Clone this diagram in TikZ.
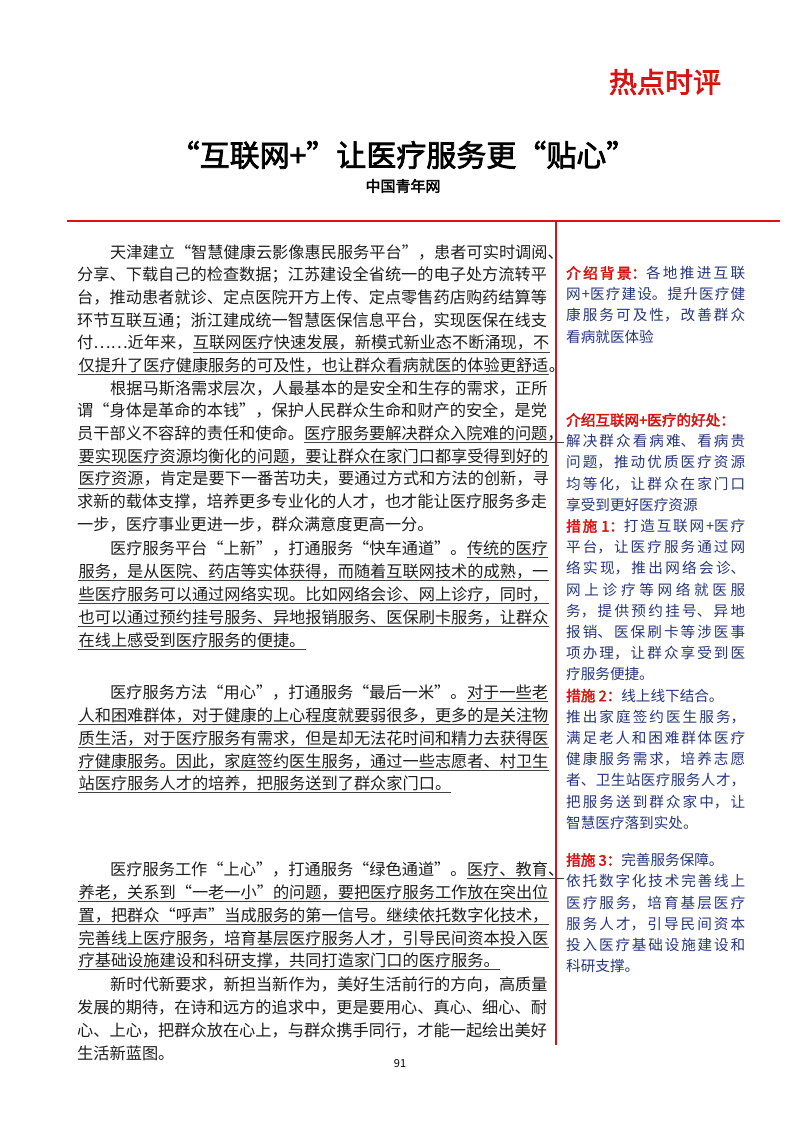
\documentclass[tikz,border=0pt]{standalone}
\usepackage{fontspec}
\setmainfont{Noto Sans CJK SC}[AutoFakeBold=2.5]
\definecolor{hotred}{RGB}{214,20,20}
\definecolor{sideblue}{RGB}{40,55,125}
\definecolor{bodyk}{RGB}{30,30,30}
\newcommand\sidesetup{\XeTeXlinebreaklocale "zh"\XeTeXlinebreakskip=0pt plus 4pt\lineskiplimit=-20pt\lineskip=0pt\relax}
\tikzset{
 bt/.style={anchor=base west,inner sep=0pt,text=bodyk,font=\fontsize{16.2}{20}\selectfont},
 ulline/.style={draw=black!75,line width=0.9pt},
 ulseg/.style={append after command={([yshift=-3.5pt]\tikzlastnode.base west) edge[ulline] ([yshift=-3.5pt]\tikzlastnode.base east)}},
 sidebox/.style={anchor=north west,inner sep=0pt,text width=179pt,align=justify,text=sideblue,
   font=\fontsize{14.6}{21.2}\selectfont},
 rl/.style={text=hotred,font=\bfseries}
}
\newcommand\pline[4]{\node[bt] (#1) at (#2,#3) {#4};}
\newcommand\bodyline[6]{%
 \node[bt] (#1a) at (#2,#3) {#4};
 \node[bt,ulseg] (#1b) at (#1a.base east) {#5};
 \node[bt] (#1c) at (#1b.base east) {#6};}
\begin{document}
\begin{tikzpicture}[x=1pt,y=-1pt]
\path[use as bounding box,fill=white] (0,0) rectangle (800,1132);
\node[text=hotred,font=\fontsize{28}{30}\selectfont\bfseries] (hot) at (665,82) {热点时评};
\node[font=\fontsize{30}{32}\selectfont\bfseries] (title) at (403,155) {“互联网+”让医疗服务更“贴心”};
\node[font=\fontsize{15}{17}\selectfont\bfseries] (src) at (403,186) {中国青年网};
\coordinate (hl) at (67,221); \coordinate (hr) at (780,221);
\draw[hotred,line width=2.5pt] (hl) -- (hr);
\coordinate (vt) at (556,221); \coordinate (vb) at (556,1045);
\draw[hotred,line width=2.5pt] (vt) -- (vb);
% para 1
\pline{pa}{110}{258}{天津建立“智慧健康云影像惠民服务平台”，患者可实时调阅、}
\pline{pb}{77}{280.5}{分享、下载自己的检查数据；江苏建设全省统一的电子处方流转平}
\pline{pc}{77}{303}{台，推动患者就诊、定点医院开方上传、定点零售药店购药结算等}
\pline{pd}{77}{326}{环节互联互通；浙江建成统一智慧医保信息平台，实现医保在线支}
\bodyline{pe}{77}{348.5}{付……近年来，}{互联网医疗快速发展，新模式新业态不断涌现，不}{}
\bodyline{pf}{77}{371}{}{仅提升了医疗健康服务的可及性，也让群众看病就医的体验更舒适}{。}
% para 2
\pline{qa}{110}{394}{根据马斯洛需求层次，人最基本的是安全和生存的需求，正所}
\pline{qb}{77}{416.5}{谓“身体是革命的本钱”，保护人民群众生命和财产的安全，是党}
\bodyline{qc}{77}{439}{员干部义不容辞的责任和使命。}{医疗服务要解决群众入院难的问题，}{}
\bodyline{qd}{77}{462}{}{要实现医疗资源均衡化的问题，要让群众在家门口都享受得到好的}{}
\bodyline{qe}{77}{484.5}{}{医疗资源}{，肯定是要下一番苦功夫，要通过方式和方法的创新，寻}
\pline{qf}{77}{507}{求新的载体支撑，培养更多专业化的人才，也才能让医疗服务多走}
\pline{qg}{77}{530}{一步，医疗事业更进一步，群众满意度更高一分。}
% para 3
\bodyline{ra}{110}{554}{医疗服务平台“上新”，打通服务“快车通道”。}{传统的医疗}{}
\bodyline{rb}{77}{577}{}{服务，是从医院、药店等实体获得，而随着互联网技术的成熟，一}{}
\bodyline{rc}{77}{600}{}{些医疗服务可以通过网络实现。比如网络会诊、网上诊疗，同时，}{}
\bodyline{rd}{77}{623}{}{也可以通过预约挂号服务、异地报销服务、医保刷卡服务，让群众}{}
\bodyline{re}{77}{646}{}{在线上感受到医疗服务的便捷。\ }{}
% para 4
\bodyline{sa}{110}{698}{医疗服务方法“用心”，打通服务“最后一米”。}{对于一些老}{}
\bodyline{sb}{77}{721}{}{人和困难群体，对于健康的上心程度就要弱很多，更多的是关注物}{}
\bodyline{sc}{77}{744}{}{质生活，对于医疗服务有需求，但是却无法花时间和精力去获得医}{}
\bodyline{sd}{77}{767}{}{疗健康服务。因此，家庭签约医生服务，通过一些志愿者、村卫生}{}
\bodyline{se}{77}{789}{}{站医疗服务人才的培养，把服务送到了群众家门口。}{}
% para 5
\bodyline{ta}{110}{875}{医疗服务工作“上心”，打通服务“绿色通道”。}{医疗、教育、}{}
\bodyline{tb}{77}{898}{}{养老，关系到“一老一小”的问题，要把医疗服务工作放在突出位}{}
\bodyline{tc}{77}{921}{}{置，把群众“呼声”当成服务的第一信号。继续依托数字化技术，}{}
\bodyline{td}{77}{944}{}{完善线上医疗服务，培育基层医疗服务人才，引导民间资本投入医}{}
\bodyline{te}{77}{966}{}{疗基础设施建设和科研支撑，共同打造家门口的医疗服务。}{}
% para 6
\pline{ua}{110}{990}{新时代新要求，新担当新作为，美好生活前行的方向，高质量}
\pline{ub}{77}{1013}{发展的期待，在诗和远方的追求中，更是要用心、真心、细心、耐}
\pline{uc}{77}{1036}{心、上心，把群众放在心上，与群众携手同行，才能一起绘出美好}
\pline{ud}{77}{1059}{生活新蓝图。}
\node[font=\fontsize{11}{12}\selectfont] (pg) at (400,1064) {91};
% side column
\node[sidebox] (s1) at (566,266) {\sidesetup{\color{hotred}\bfseries 介绍背景：}各地推进互联\linebreak
网+医疗建设。提升医疗健\linebreak 康服务可及性，改善群众\linebreak 看病就医体验};
\node[sidebox] (s2) at (566,413) {\sidesetup{\color{hotred}\bfseries 介绍互联网+医疗的好处：}\\
解决群众看病难、看病贵\linebreak 问题，推动优质医疗资源\linebreak 均等化，让群众在家门口\linebreak 享受到更好医疗资源\\
{\color{hotred}\bfseries 措施 1：}打造互联网+医疗\linebreak 平台，让医疗服务通过网\linebreak 络实现，推出网络会诊、\linebreak 网上诊疗等网络就医服\linebreak 务，提供预约挂号、异地\linebreak 报销、医保刷卡等涉医事\linebreak 项办理，让群众享受到医\linebreak 疗服务便捷。\\
{\color{hotred}\bfseries 措施 2：}线上线下结合。\\
推出家庭签约医生服务，\linebreak 满足老人和困难群体医疗\linebreak 健康服务需求，培养志愿\linebreak 者、卫生站医疗服务人才，\linebreak 把服务送到群众家中，让\linebreak 智慧医疗落到实处。};
\node[sidebox] (s3) at (566,853) {\sidesetup{\color{hotred}\bfseries 措施 3：}完善服务保障。\\
依托数字化技术完善线上\linebreak 医疗服务，培育基层医疗\linebreak 服务人才，引导民间资本\linebreak 投入医疗基础设施建设和\linebreak 科研支撑。};
\end{tikzpicture}
\end{document}
